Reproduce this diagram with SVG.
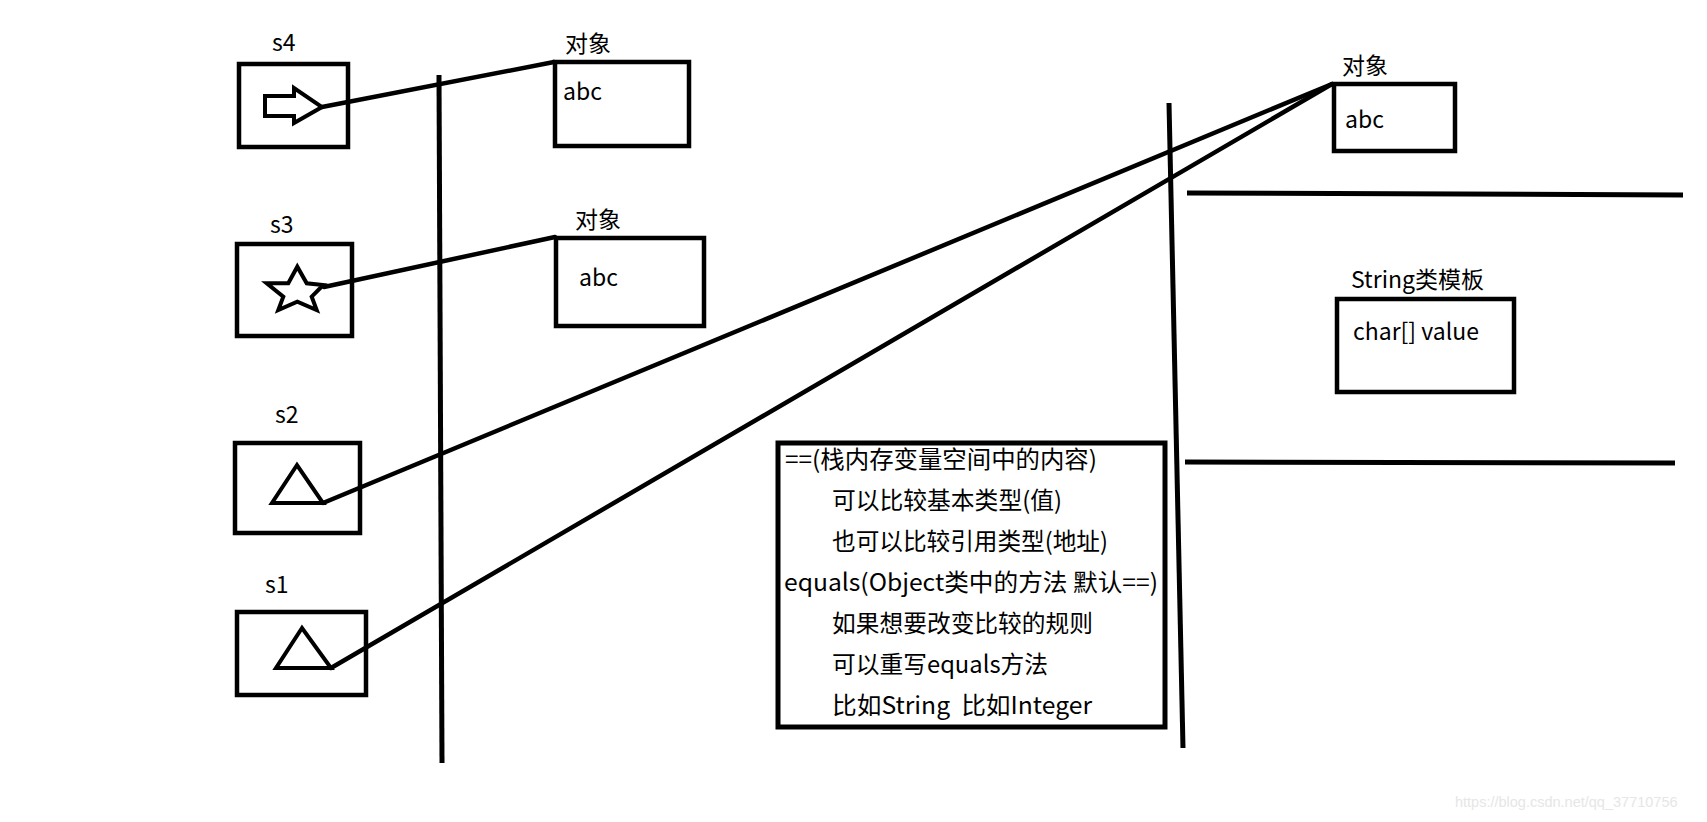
<svg xmlns="http://www.w3.org/2000/svg" width="1707" height="822" viewBox="0 0 1707 822">
<style>
.bx{fill:#fff;stroke:#000;stroke-width:4.5}
.sh{fill:#fff;stroke:#000;stroke-width:4;stroke-linejoin:miter}
.ln{fill:none;stroke:#000;stroke-width:4.5;stroke-linecap:round}
.vl{fill:none;stroke:#000;stroke-width:5;stroke-linecap:butt}
text{font-family:"Noto Sans CJK SC","Noto Sans",sans-serif;fill:#000}
.lb{font-size:23px}
.tx{font-size:24px;white-space:pre}
.wm{font-family:"Liberation Sans",sans-serif;font-size:14.5px;fill:#e6e6e6}
</style>
<rect width="1707" height="822" fill="#fff"/>
<g id="dividers">
<path class="vl" d="M439 75 L442 763"/>
<path class="vl" d="M1169 103 L1183 748"/>
<path class="vl" d="M1187 193 L1683 195"/>
<path class="vl" d="M1185 462 L1675 463"/>
</g>
<g id="s4">
<text class="lb" x="272" y="51">s4</text>
<rect class="bx" x="239" y="64" width="109" height="83"/>
<polygon class="sh" points="265,96 294,96 294,88 322,107 294,123 294,116 265,116"/>
</g>
<g id="s3">
<text class="lb" x="270" y="233">s3</text>
<rect class="bx" x="237" y="244" width="115" height="92"/>
<polygon class="sh" points="266.7,283.3 288.3,283.3 297.3,266.7 306.7,283.3 323.3,285 311.7,296.7 316.7,310 297.3,301.7 278.3,310 283.3,296.7"/>
</g>
<g id="s2">
<text class="lb" x="275" y="423">s2</text>
<rect class="bx" x="235" y="443" width="125" height="90"/>
<polygon class="sh" points="297,465 272,503 323,503"/>
</g>
<g id="s1">
<text class="lb" x="265" y="593">s1</text>
<rect class="bx" x="237" y="612" width="129" height="83"/>
<polygon class="sh" points="302,628 276,668 331,668"/>
</g>
<g id="obj1">
<text class="lb" x="565" y="52">对象</text>
<rect class="bx" x="555" y="62" width="134" height="84"/>
<text class="lb" x="563" y="100">abc</text>
</g>
<g id="obj2">
<text class="lb" x="575" y="228">对象</text>
<rect class="bx" x="556" y="238" width="148" height="88"/>
<text class="lb" x="579" y="286">abc</text>
</g>
<g id="obj3">
<text class="lb" x="1342" y="74">对象</text>
<rect class="bx" x="1334" y="84" width="121" height="67"/>
<text class="lb" x="1345" y="128">abc</text>
</g>
<g id="stringTemplate">
<text class="lb" x="1351" y="288" font-size="22">String类模板</text>
<rect class="bx" x="1337" y="299" width="177" height="93"/>
<text class="lb" x="1353" y="340">char[] value</text>
</g>
<g id="connectors">
<path class="ln" d="M322 107 L554 62"/>
<path class="ln" d="M324 287 L555 237"/>
<path class="ln" d="M323 503 L1332 84"/>
<path class="ln" d="M331 668 L1332 84"/>
</g>
<g id="note">
<rect x="778" y="443" width="387" height="284" fill="#fff" stroke="#000" stroke-width="5"/>
<text class="tx" x="785" y="468" textLength="312" lengthAdjust="spacingAndGlyphs">==(栈内存变量空间中的内容)</text>
<text class="tx" x="832" y="509" textLength="230" lengthAdjust="spacingAndGlyphs">可以比较基本类型(值)</text>
<text class="tx" x="832" y="550" textLength="276" lengthAdjust="spacingAndGlyphs">也可以比较引用类型(地址)</text>
<text class="tx" x="784" y="591" textLength="374" lengthAdjust="spacingAndGlyphs">equals(Object类中的方法 默认==)</text>
<text class="tx" x="832" y="632" textLength="261" lengthAdjust="spacingAndGlyphs">如果想要改变比较的规则</text>
<text class="tx" x="832" y="673" textLength="216" lengthAdjust="spacingAndGlyphs">可以重写equals方法</text>
<text class="tx" x="832" y="714" textLength="260" lengthAdjust="spacingAndGlyphs" xml:space="preserve">比如String  比如Integer</text>
</g>
<text class="wm" x="1455" y="807">https://blog.csdn.net/qq_37710756</text>
</svg>
